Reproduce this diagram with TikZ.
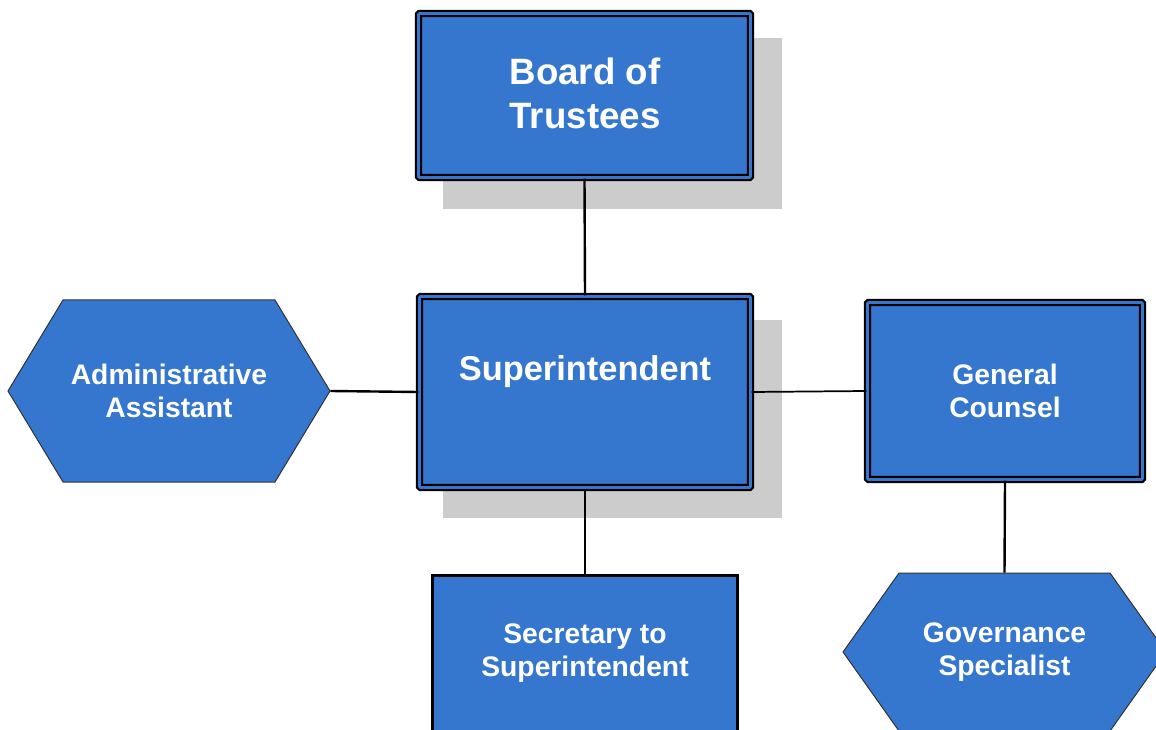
\documentclass[tikz,border=0pt]{standalone}
\usepackage{fontspec}
\setmainfont{Liberation Sans}
\definecolor{boxblue}{RGB}{53,118,206}
\definecolor{shadegray}{RGB}{204,204,204}
\def\u{0.75pt}
\begin{document}
\begin{tikzpicture}[x=0.75pt,y=-0.75pt,
  dbox/.style={rectangle, fill=boxblue, draw=black, line width=1.75pt,
    double=boxblue, double distance=2pt, rounded corners=0.75pt,
    inner sep=0pt, text=white, align=center},
  sbox/.style={rectangle, fill=boxblue, draw=black, line width=2pt,
    inner sep=0pt, text=white, align=center},
  boardtext/.style={font=\bfseries\fontsize{27.5}{33}\selectfont},
  bigtext/.style={font=\bfseries\fontsize{25.8}{33}\selectfont},
  smalltext/.style={font=\bfseries\fontsize{21.2}{24.75}\selectfont},
  hexshape/.style={fill=boxblue, draw=black!80, line width=0.75pt, line join=miter},
  hexlabel/.style={rectangle, inner sep=0pt, text=white, align=center},
  shadow/.style={fill=shadegray, draw=none},
  link/.style={draw=black, line width=1.8pt},
  thinlink/.style={draw=black, line width=1.3pt}]
\useasboundingbox (0,0) rectangle (1156,730);
\clip (0,0) rectangle (1156,730);
% shadows
\fill[shadow] (443,38) rectangle (782,209);
\fill[shadow] (443,320) rectangle (782,518);
% hexagons
\path[hexshape] (8,391) -- (63,300) -- (275,300) -- (330,391) -- (275,482) -- (63,482) -- cycle;
\path[hexshape] (843,652) -- (899,573) -- (1110,573) -- (1166,652) -- (1110,731) -- (899,731) -- cycle;
% boxes
\node[dbox, minimum width=332*\u, minimum height=164*\u] (board) at (584.5,95.5) {};
\node[hexlabel, boardtext] (boardtxt) at (585,93) {Board of\\Trustees};
\node[dbox, minimum width=331*\u, minimum height=191*\u] (sup) at (585,392) {};
\node[text=white, bigtext, anchor=base, inner sep=0pt] (suptxt) at (585,381) {Superintendent};
\node[dbox, smalltext, minimum width=275*\u, minimum height=177*\u] (gc) at (1005,391) {General\\Counsel};
\node[sbox, minimum width=305*\u, minimum height=170*\u, anchor=north] (sec) at (585,574) {};
\node[hexlabel, smalltext] (sectxt) at (585,653) {Secretary to\\Superintendent};
\node[hexlabel, smalltext, minimum width=322*\u, minimum height=182*\u] (aa) at (169,391) {Administrative\\Assistant};
\node[hexlabel, smalltext, minimum width=323*\u, minimum height=158*\u] (gs) at (1004.5,652) {Governance\\Specialist};
% connectors
\draw[link] (board.south) -- (sup.north);
\draw[link] (aa.east) -- (sup.west);
\draw[thinlink] (sup.east) -- (gc.west);
\draw[link] (sup.south) -- (sec.north);
\draw[link] (gc.south) -- (gs.north);
\end{tikzpicture}
\end{document}
